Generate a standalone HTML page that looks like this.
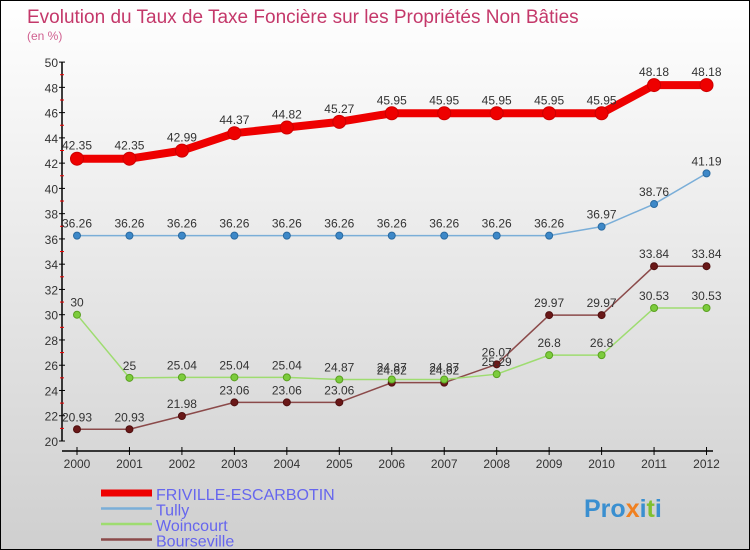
<!DOCTYPE html>
<html><head><meta charset="utf-8"><style>
body{margin:0}
#c{width:748px;height:548px;border:1px solid #000;background:linear-gradient(#ffffff,#cfcfcf);position:relative;font-family:"Liberation Sans",sans-serif;overflow:hidden}
</style></head><body>
<div id="c">
<svg id="s" width="748" height="548" xmlns="http://www.w3.org/2000/svg" style="position:absolute;left:0;top:0">
<text x="26" y="22" font-size="19" fill="#c4386a">Evolution du Taux de Taxe Foncière sur les Propriétés Non Bâties</text>
<text x="26" y="39" font-size="12" fill="#d06090">(en %)</text>
<g id="axes"></g><g id="series"></g><g id="legend"></g>
<text x="583" y="516" font-size="25" font-weight="bold" fill="#3a8fd0">Pro<tspan fill="#f08020">x</tspan>i<tspan fill="#80c030">t</tspan>i</text>
</svg>
</div>
<script>
const years=[2000,2001,2002,2003,2004,2005,2006,2007,2008,2009,2010,2011,2012];
const yTicks=[20,22,24,26,28,30,32,34,36,38,40,42,44,46,48,50];
const friville=[42.35,42.35,42.99,44.37,44.82,45.27,45.95,45.95,45.95,45.95,45.95,48.18,48.18];
const tully=[36.26,36.26,36.26,36.26,36.26,36.26,36.26,36.26,36.26,36.26,36.97,38.76,41.19];
const woincourt=[30,25,25.04,25.04,25.04,24.87,24.87,24.87,25.29,26.8,26.8,30.53,30.53];
const bourseville=[20.93,20.93,21.98,23.06,23.06,23.06,24.62,24.62,26.07,29.97,29.97,33.84,33.84];
const seriesNames=["FRIVILLE-ESCARBOTIN","Tully","Woincourt","Bourseville"];
const NS="http://www.w3.org/2000/svg";
const xS=i=>76+i*52.46;
const yS=v=>440-(v-20)*12.63;
function mk(p,t,a){const e=document.createElementNS(NS,t);for(const k in a)e.setAttribute(k,a[k]);p.appendChild(e);return e;}
const ax=document.getElementById('axes');
const yl=mk(ax,'line',{x1:61,y1:yS(50),x2:61,y2:yS(20),stroke:'#000','stroke-width':1.5});


yTicks.forEach(v=>{
  mk(ax,'line',{x1:58,x2:64,y1:yS(v),y2:yS(v),stroke:'#000'});
  if(v<50) mk(ax,'line',{x1:59,x2:63,y1:yS(v+1),y2:yS(v+1),stroke:'#e00'});
  const t=mk(ax,'text',{x:57,y:yS(v)+5,'text-anchor':'end','font-size':12,fill:'#333'});
  t.textContent=v;
  
  
});
const xl=mk(ax,'line',{x1:61,y1:450,x2:712,y2:450,stroke:'#000','stroke-width':1.5});


years.forEach((y,i)=>{
  mk(ax,'line',{x1:xS(i),x2:xS(i),y1:446,y2:454,stroke:'#000'});
  const t=mk(ax,'text',{x:xS(i),y:467,'text-anchor':'middle','font-size':12,fill:'#333'});
  t.textContent=y;
  
  
});
const cfg=[
 {d:friville,line:'#ee0000',w:8,mf:'#ee0000',ms:'#c00',r:6.5},
 {d:tully,line:'#7aaed8',w:1.5,mf:'#3d88c8',ms:'#2a6aa0',r:3.5},
 {d:woincourt,line:'#9edc70',w:1.5,mf:'#7ccc3c',ms:'#5aa020',r:3.5},
 {d:bourseville,line:'#8b4a4a',w:1.5,mf:'#6a1818',ms:'#501010',r:3.5}
];
const sg=document.getElementById('series');
cfg.slice().reverse().forEach((c,ri)=>{
  const idx=cfg.length-1-ri;
  const g=mk(sg,'g',{});
  
  
  mk(g,'polyline',{points:c.d.map((v,i)=>xS(i)+','+yS(v)).join(' '),fill:'none',stroke:c.line,'stroke-width':c.w,'stroke-linejoin':'round'});
  c.d.forEach((v,i)=>{
    const p=mk(g,'circle',{cx:xS(i),cy:yS(v),r:c.r,fill:c.mf,stroke:c.ms});
    
    
    const t=mk(g,'text',{x:xS(i),y:yS(v)-(idx==0?9:8),'text-anchor':'middle','font-size':12,fill:'#333'});
    t.textContent=v;
    
    
  });
});
const lg=document.getElementById('legend');
cfg.forEach((c,i)=>{
  const y=492+i*15.5;
  const g=mk(lg,'g',{});
  
  
  mk(g,'line',{x1:100,x2:151,y1:y,y2:y,stroke:c.line,'stroke-width':i==0?7:2.5});
  const t=mk(g,'text',{x:155,y:y+7,'font-size':16,fill:'#6666ee'});
  t.textContent=seriesNames[i];
});
</script>
</body></html>
